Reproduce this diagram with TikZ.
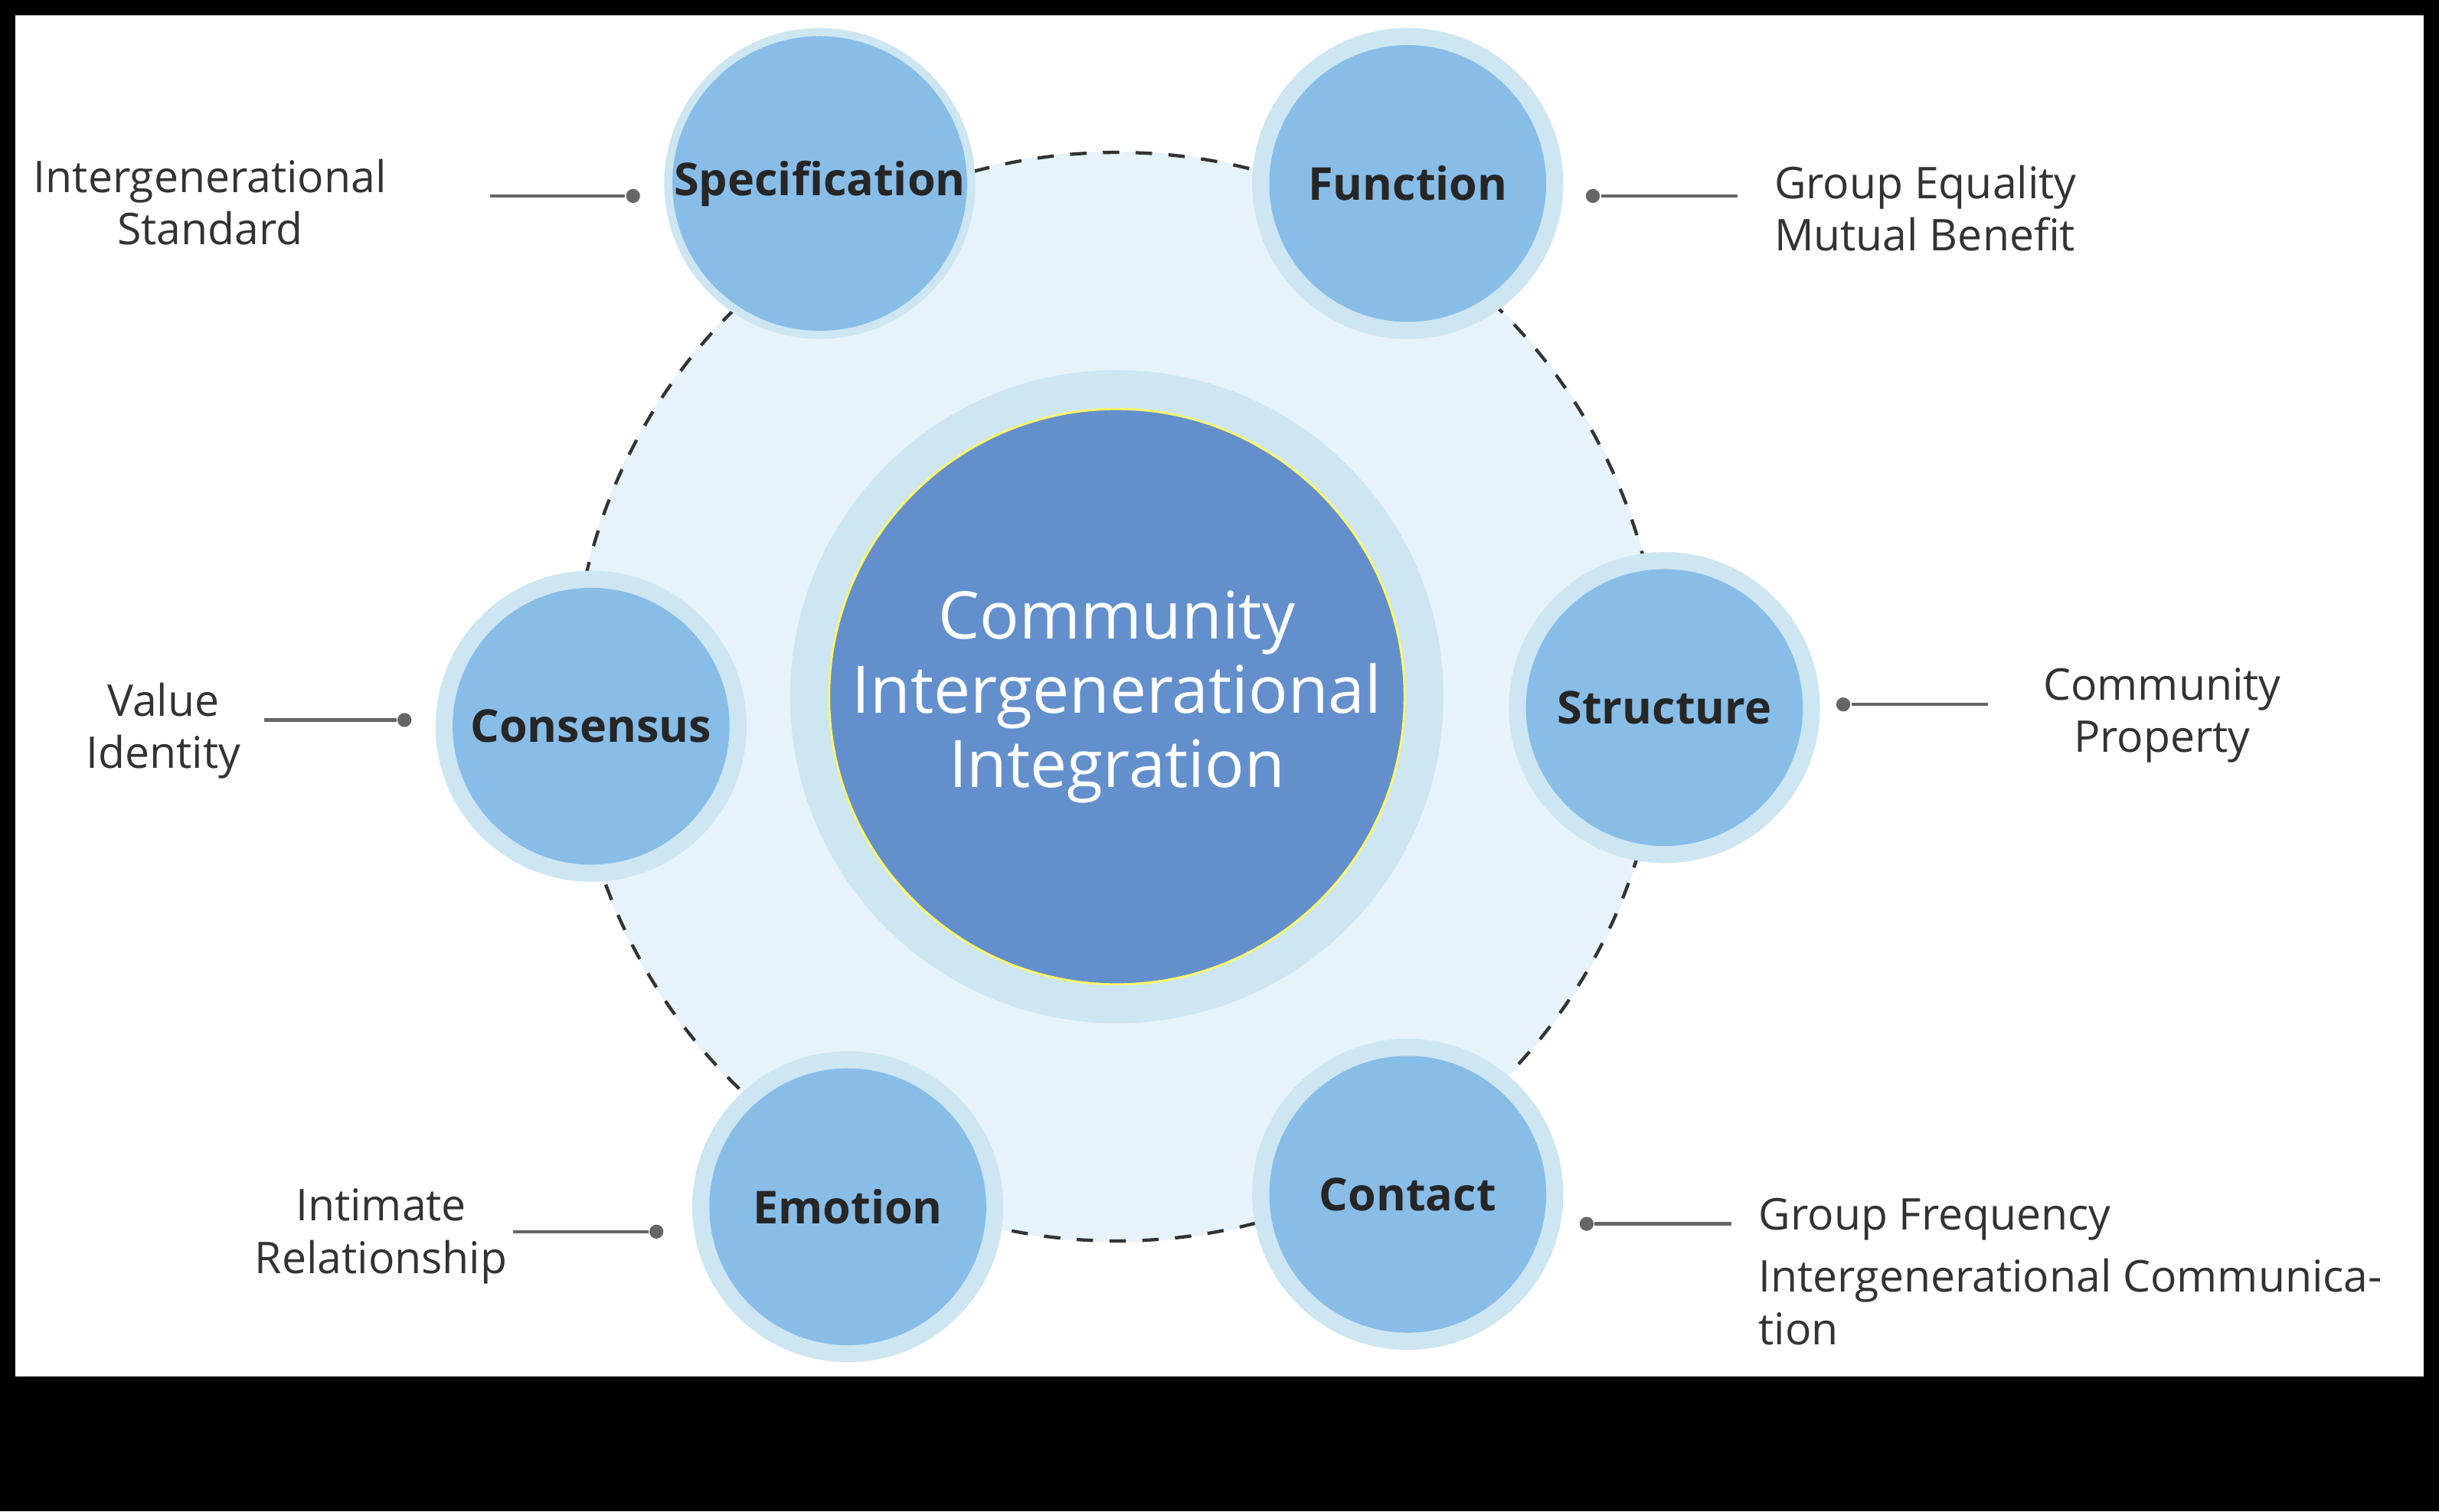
\documentclass[tikz,border=0pt]{standalone}
\usepackage{fontspec}
\setmainfont{Open Sans}
\usetikzlibrary{calc}
\definecolor{ringfill}{HTML}{E6F3FA}
\definecolor{halofill}{HTML}{CDE6F2}
\definecolor{satfill}{HTML}{88BDE8}
\definecolor{corefill}{HTML}{6390CC}
\definecolor{labtext}{HTML}{333333}
\definecolor{linegray}{HTML}{666666}
\tikzset{
  halo/.style={circle,fill=halofill,minimum size=2.0cm,inner sep=0pt},
  sat/.style={circle,fill=satfill,minimum size=1.78cm,inner sep=0pt,
    font=\fontsize{8.3}{10}\selectfont\bfseries,text=black!85},
  lab/.style={text=labtext,font=\fontsize{8}{9.6}\selectfont,inner sep=0pt},
  dot/.style={circle,fill=linegray,minimum size=0.09cm,inner sep=0pt},
  lead/.style={linegray,line width=0.6pt}
}
\begin{document}
\begin{tikzpicture}
  \fill[black] (0,0) rectangle (15.68,9.72);
  \fill[white] (0.1,0.87) rectangle (15.58,9.62);
  \useasboundingbox (0,0) rectangle (15.68,9.72);

  % ring
  \draw[ringfill,fill=ringfill] (7.18,5.24) circle (3.5);
  \draw[dashed,black!80,line width=0.6pt] (7.18,5.24) circle (3.5);
  \fill[halofill] (7.18,5.24) circle (2.1);
  \node[circle,fill=corefill,draw=yellow!60!white,line width=0.4pt,
    minimum size=3.7cm,inner sep=0pt,text=white,align=center,
    font=\fontsize{12}{13.6}\selectfont] (core) at (7.18,5.24)
    {Community\\Intergenerational\\Integration};

  % satellites
  \foreach \nm/\x/\y/\txt in {spec/5.27/8.54/Specification,
      func/9.05/8.54/Function, struc/10.70/5.17/Structure,
      cont/9.05/2.04/Contact, emo/5.45/1.96/Emotion,
      cons/3.80/5.05/Consensus}{
    \node[halo] at (\x,\y) {};
    \node[sat] (\nm) at (\x,\y) {\txt};
  }

  % leaders
  \node[dot] (specd) at (4.07,8.46) {};
  \coordinate (specl) at (3.15,8.46);
  \draw[lead] (specl) -- (specd);
  \node[lab,align=center] (spect) at (1.35,8.42) {Intergenerational\\Standard};

  \node[dot] (funcd) at (10.24,8.46) {};
  \coordinate (funcl) at (11.17,8.46);
  \draw[lead] (funcd) -- (funcl);
  \node[lab,align=left,anchor=west] (funct) at (11.40,8.38) {Group Equality\\Mutual Benefit};

  \node[dot] (strucd) at (11.85,5.19) {};
  \coordinate (strucl) at (12.78,5.19);
  \draw[lead] (strucd) -- (strucl);
  \node[lab,align=center] (struct) at (13.90,5.12) {Community\\Property};

  \node[dot] (consd) at (2.60,5.09) {};
  \coordinate (consl) at (1.70,5.09);
  \draw[lead] (consl) -- (consd);
  \node[lab,align=center] (const) at (1.05,5.02) {Value\\Identity};

  \node[dot] (emod) at (4.22,1.80) {};
  \coordinate (emol) at (3.30,1.80);
  \draw[lead] (emol) -- (emod);
  \node[lab,align=center] (emot) at (2.45,1.77) {Intimate\\Relationship};

  \node[dot] (contd) at (10.20,1.85) {};
  \coordinate (contl) at (11.13,1.85);
  \draw[lead] (contd) -- (contl);
  \node[lab,align=left,anchor=north west] (contt) at (11.30,2.02)
    {Group Frequency\\[0.06cm]Intergenerational Communica-\\tion};
\end{tikzpicture}
\end{document}
